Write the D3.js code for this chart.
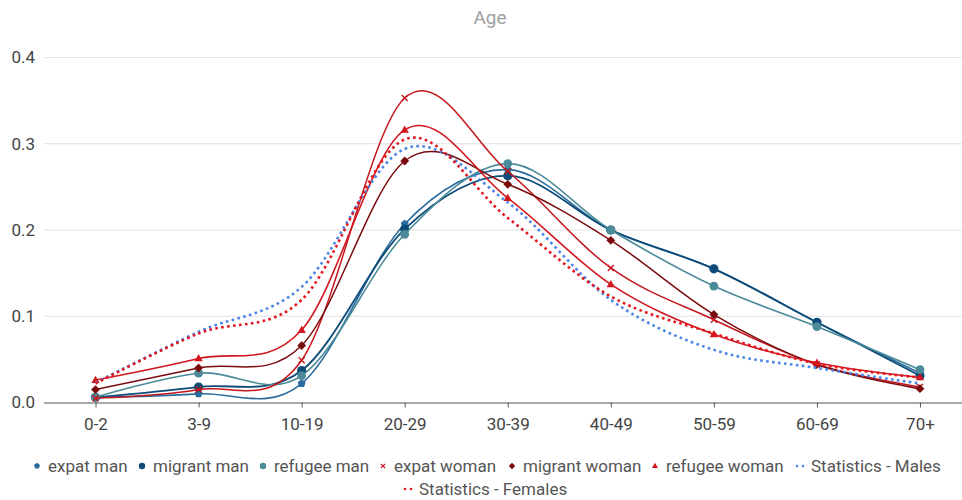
<!DOCTYPE html>
<html>
<head>
<meta charset="utf-8">
<script src="https://cdn.jsdelivr.net/npm/d3@7"></script>
<style>
  html, body { margin: 0; padding: 0; background: #fff; }
  svg { display: block; font-family: Roboto, "Noto Sans", sans-serif; }
</style>
</head>
<body>
<svg id="chart" width="962" height="500"></svg>
<script>
// Age groups on the x axis
const ageGroups = ["0-2", "3-9", "10-19", "20-29", "30-39", "40-49", "50-59", "60-69", "70+"];
const yTicks = [0, 0.1, 0.2, 0.3, 0.4];

// Share of each age group, per group of respondents
const expatMan       = [0.006, 0.010, 0.022, 0.207, 0.270, 0.200, 0.155, 0.093, 0.034];
const migrantMan     = [0.006, 0.018, 0.037, 0.201, 0.263, 0.200, 0.155, 0.093, 0.031];
const refugeeMan     = [0.006, 0.034, 0.031, 0.195, 0.277, 0.200, 0.135, 0.088, 0.038];
const expatWoman     = [0.005, 0.015, 0.049, 0.353, 0.268, 0.156, 0.096, 0.044, 0.018];
const migrantWoman   = [0.015, 0.040, 0.066, 0.280, 0.253, 0.188, 0.102, 0.044, 0.016];
const refugeeWoman   = [0.026, 0.051, 0.084, 0.316, 0.237, 0.137, 0.079, 0.046, 0.029];
const statsMales     = [0.023, 0.082, 0.134, 0.294, 0.232, 0.119, 0.061, 0.040, 0.022];
const statsFemales   = [0.022, 0.080, 0.119, 0.305, 0.214, 0.123, 0.080, 0.045, 0.029];

const seriesNames = ["expat man", "migrant man", "refugee man", "expat woman",
                     "migrant woman", "refugee woman", "Statistics - Males", "Statistics - Females"];
const seriesValues = [expatMan, migrantMan, refugeeMan, expatWoman,
                      migrantWoman, refugeeWoman, statsMales, statsFemales];

const styles = [
  { color: "#2a6c9e", marker: "pentagon", size: 4.2, width: 1.6 },
  { color: "#0e4b78", marker: "circle",   size: 4.6, width: 1.8 },
  { color: "#4b8a99", marker: "circle",   size: 4.4, width: 1.6 },
  { color: "#c3171d", marker: "cross",    size: 3.0, width: 1.5 },
  { color: "#7a0b0d", marker: "diamond",  size: 4.4, width: 1.5 },
  { color: "#d2161d", marker: "triangle", size: 4.4, width: 1.6 },
  { color: "#4a84e6", marker: "dots",     size: 0,   width: 2.6 },
  { color: "#e3141c", marker: "dots",     size: 0,   width: 2.6 }
];

const svg = d3.select("#chart");
const plotLeft = 44, plotRight = 971.5, plotTop = 57.5, plotBottom = 402.5;

const x = d3.scalePoint().domain(ageGroups).range([plotLeft, plotRight]).padding(0.5);
const y = d3.scaleLinear().domain([0, 0.4]).range([plotBottom, plotTop]);

// Title
svg.append("text")
  .attr("x", 490).attr("y", 24)
  .attr("text-anchor", "middle")
  .attr("font-size", 19)
  .attr("fill", "#a0a0a0")
  .text("Age");

// Horizontal gridlines
svg.append("g")
  .selectAll("line")
  .data(yTicks.filter(d => d > 0))
  .join("line")
  .attr("x1", plotLeft).attr("x2", 962)
  .attr("y1", d => y(d)).attr("y2", d => y(d))
  .attr("stroke", "#e2e2e2").attr("stroke-width", 1);

// Y axis labels
const yAxis = d3.axisLeft(y).tickValues(yTicks).tickFormat(d3.format(".1f")).tickSize(0).tickPadding(9);
svg.append("g")
  .attr("transform", `translate(${plotLeft},0)`)
  .call(yAxis)
  .call(g => g.select(".domain").remove())
  .call(g => g.selectAll("text").attr("font-size", 17).attr("fill", "#444").attr("font-family", "Roboto"));

// X axis
const xAxis = d3.axisBottom(x).tickSize(5).tickPadding(10);
svg.append("g")
  .attr("transform", `translate(0,${plotBottom})`)
  .call(xAxis)
  .call(g => g.select(".domain").attr("d", `M${plotLeft},0.5H962`).attr("stroke", "#555"))
  .call(g => g.selectAll(".tick line").attr("stroke", "#555"))
  .call(g => g.selectAll("text").attr("font-size", 17).attr("fill", "#444").attr("font-family", "Roboto"));

// Marker shapes
function markerPath(type, r) {
  if (type === "circle") {
    return d3.symbol(d3.symbolCircle, Math.PI * r * r)();
  }
  if (type === "diamond") {
    return `M0,${-r}L${r},0L0,${r}L${-r},0Z`;
  }
  if (type === "triangle") {
    return `M0,${-r}L${r * 0.95},${r * 0.65}L${-r * 0.95},${r * 0.65}Z`;
  }
  if (type === "pentagon") {
    const pts = d3.range(5).map(i => {
      const a = -Math.PI / 2 + i * 2 * Math.PI / 5;
      return [r * Math.cos(a), r * Math.sin(a)];
    });
    return "M" + pts.map(p => p.join(",")).join("L") + "Z";
  }
  if (type === "cross") {
    return `M${-r},${-r}L${r},${r}M${r},${-r}L${-r},${r}`;
  }
  return "";
}

const line = d3.line()
  .x((d, i) => x(ageGroups[i]))
  .y(d => y(d))
  .curve(d3.curveCardinal.tension(0));

const series = svg.append("g")
  .selectAll("g")
  .data(seriesValues.map((v, i) => ({ name: seriesNames[i], values: v, style: styles[i] })))
  .join("g");

series.append("path")
  .attr("d", d => line(d.values))
  .attr("fill", "none")
  .attr("stroke", d => d.style.color)
  .attr("stroke-width", d => d.style.width)
  .attr("stroke-dasharray", d => d.style.marker === "dots" ? "2.6,3.4" : null);

series.each(function (d) {
  if (d.style.marker === "dots") return;
  d3.select(this).selectAll("path.mk")
    .data(d.values)
    .join("path")
    .attr("class", "mk")
    .attr("transform", (v, i) => `translate(${x(ageGroups[i])},${y(v)})`)
    .attr("d", markerPath(d.style.marker, d.style.size))
    .attr("fill", d.style.marker === "cross" ? "none" : d.style.color)
    .attr("stroke", d.style.marker === "cross" ? d.style.color : "none")
    .attr("stroke-width", 1.4);
});

// Legend, two rows
const legendRows = [
  { y: 466, items: [0, 1, 2, 3, 4, 5, 6], markerX: [37, 142, 263, 383, 512, 655, 800] },
  { y: 489, items: [7], markerX: [408] }
];
const legend = svg.append("g");
legendRows.forEach(row => {
  row.items.forEach((idx, k) => {
    const st = styles[idx];
    const mx = row.markerX[k];
    const g = legend.append("g");
    if (st.marker === "dots") {
      g.append("circle").attr("cx", mx - 3).attr("cy", row.y).attr("r", 1.3).attr("fill", st.color);
      g.append("circle").attr("cx", mx + 3).attr("cy", row.y).attr("r", 1.3).attr("fill", st.color);
    } else {
      const small = st.marker === "cross" ? 2.2 : 3.2;
      g.append("path")
        .attr("transform", `translate(${mx},${row.y})`)
        .attr("d", markerPath(st.marker, small))
        .attr("fill", st.marker === "cross" ? "none" : st.color)
        .attr("stroke", st.marker === "cross" ? st.color : "none")
        .attr("stroke-width", 1.2);
    }
    g.append("text")
      .attr("x", mx + 11).attr("y", row.y + 6)
      .attr("font-size", 17).attr("fill", "#555")
      .text(seriesNames[idx]);
  });
});
</script>
</body>
</html>
